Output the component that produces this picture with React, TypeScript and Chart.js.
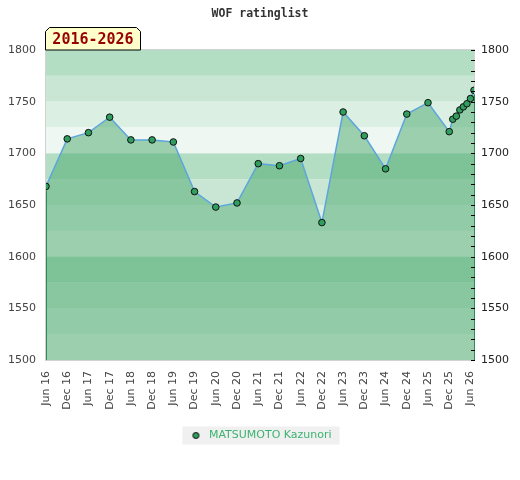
import React, { useEffect, useRef } from "react";
import { Chart, registerables } from "chart.js";

Chart.register(...registerables);

// ---- data ----
const chartTitle = "WOF ratinglist";
const periodLabel = "2016-2026";
const playerName = "MATSUMOTO Kazunori";

// months elapsed since Jun 2016
const monthOffsets = [0, 6, 12, 18, 24, 30, 36, 42, 48, 54, 60, 66, 72, 78, 84, 90, 96, 102, 108, 114, 115, 116, 117, 118, 119, 120, 121];
const ratings = [1668, 1714, 1720, 1735, 1713, 1713, 1711, 1663, 1648, 1652, 1690, 1688, 1695, 1633, 1740, 1717, 1685, 1738, 1749, 1721, 1733, 1736, 1742, 1745, 1748, 1753, 1761];

const xTickLabels = [
  "Jun 16", "Dec 16", "Jun 17", "Dec 17", "Jun 18", "Dec 18", "Jun 19", "Dec 19",
  "Jun 20", "Dec 20", "Jun 21", "Dec 21", "Jun 22", "Dec 22", "Jun 23", "Dec 23",
  "Jun 24", "Dec 24", "Jun 25", "Dec 25", "Jun 26",
];
const xTickStep = 6;
const xMin = 0;
const xMax = 121;

const yMin = 1500;
const yMax = 1800;
const yStep = 50;
const yMinorStep = 10;
const bandStep = 25;
const bandColors = ["#b3dec3", "#c9e6d4", "#dcefe3", "#eef7f1"];

const lineColor = "#5ea5dc";
const fillColor = "rgba(71,168,108,0.5)";
const pointColor = "#2f9e5e";
const legendTextColor = "#3cb371";

const decorPlugin = {
  id: "decor",
  beforeDraw(chart: any) {
    const { ctx, chartArea: a, scales } = chart;
    const ys = scales.y;
    ctx.save();
    let i = 0;
    for (let v = yMax; v > yMin; v -= bandStep) {
      const top = ys.getPixelForValue(v);
      const bot = ys.getPixelForValue(v - bandStep);
      ctx.fillStyle = bandColors[i % bandColors.length];
      ctx.fillRect(a.left, top, a.right - a.left, bot - top);
      i++;
    }
    ctx.strokeStyle = "#d2d2d2";
    ctx.lineWidth = 1;
    ctx.strokeRect(a.left - 0.5, a.top - 0.5, a.right - a.left + 1, a.bottom - a.top + 1);
    const lg = chart.legend;
    if (lg && lg.legendHitBoxes && lg.legendHitBoxes.length) {
      const hb = lg.legendHitBoxes[0];
      ctx.fillStyle = "#f0f0f0";
      ctx.fillRect(hb.left - 6, hb.top + hb.height / 2 - 9, hb.width + 14, 18);
    }
    ctx.restore();
  },
  afterDatasetsDraw(chart: any) {
    const { ctx, chartArea: a, scales } = chart;
    const meta = chart.getDatasetMeta(0);
    const pts = meta.data;
    ctx.save();
    ctx.strokeStyle = "#2e8b57";
    ctx.lineWidth = 1;
    [pts[0], pts[pts.length - 1]].forEach((p: any) => {
      ctx.beginPath();
      ctx.moveTo(Math.round(p.x) + 0.5, p.y + 4);
      ctx.lineTo(Math.round(p.x) + 0.5, a.bottom);
      ctx.stroke();
    });
    ctx.strokeStyle = "#000";
    for (let v = yMin; v <= yMax; v += yMinorStep) {
      const y = Math.round(scales.y.getPixelForValue(v)) + 0.5;
      ctx.beginPath();
      ctx.moveTo(a.right - 3, y);
      ctx.lineTo(a.right + 1, y);
      ctx.stroke();
    }
    ctx.restore();
  },
  afterDraw(chart: any) {
    const { ctx, chartArea: a } = chart;
    const x0 = a.left - 0.5;
    const x1 = a.left + 94.5;
    const yb = a.top;
    const yt = a.top - 22.5;
    const c = 4;
    ctx.save();
    ctx.beginPath();
    ctx.moveTo(x0, yb);
    ctx.lineTo(x0, yt + c);
    ctx.lineTo(x0 + c, yt);
    ctx.lineTo(x1 - c, yt);
    ctx.lineTo(x1, yt + c);
    ctx.lineTo(x1, yb);
    ctx.closePath();
    ctx.fillStyle = "#ffffcc";
    ctx.fill();
    ctx.strokeStyle = "#000";
    ctx.lineWidth = 1;
    ctx.stroke();
    ctx.font = 'bold 15px "DejaVu Sans Mono"';
    ctx.fillStyle = "#990000";
    ctx.textAlign = "center";
    ctx.textBaseline = "middle";
    ctx.fillText(periodLabel, (x0 + x1) / 2, (yt + yb) / 2 + 1);
    ctx.restore();
  },
};

export default function App() {
  const ref = useRef<HTMLCanvasElement | null>(null);

  useEffect(() => {
    document.body.style.margin = "0";
    const canvas = ref.current;
    if (!canvas) return;

    const dot = document.createElement("canvas");
    dot.width = 9;
    dot.height = 9;
    const dc = dot.getContext("2d")!;
    dc.beginPath();
    dc.arc(4.5, 4.5, 3, 0, Math.PI * 2);
    dc.fillStyle = pointColor;
    dc.fill();
    dc.strokeStyle = "#000";
    dc.lineWidth = 1;
    dc.stroke();

    const tickFont = { family: "DejaVu Sans", size: 11 };

    const chart = new Chart(canvas, {
      type: "line",
      data: {
        datasets: [
          {
            label: playerName,
            data: monthOffsets.map((m, i) => ({ x: m, y: ratings[i] })),
            borderColor: lineColor,
            borderWidth: 1.5,
            backgroundColor: fillColor,
            fill: "start",
            tension: 0,
            pointRadius: 3.3,
            pointBorderWidth: 1,
            pointBackgroundColor: pointColor,
            pointBorderColor: "#111",
            yAxisID: "y",
          },
        ],
      },
      options: {
        responsive: false,
        animation: false,
        layout: { padding: { bottom: 29 } },
        plugins: {
          title: {
            display: true,
            text: chartTitle,
            color: "#333",
            font: { family: "DejaVu Sans Mono", size: 11.5, weight: "bold" },
            padding: { top: 7, bottom: 29.2 },
          },
          legend: {
            display: true,
            position: "bottom",
            labels: {
              usePointStyle: true,
              pointStyle: dot,
              pointStyleWidth: 15,
              boxHeight: 5,
              padding: 10,
              color: legendTextColor,
              font: { family: "DejaVu Sans", size: 11 },
            },
          },
          tooltip: { enabled: false },
        },
        scales: {
          x: {
            type: "linear",
            min: xMin,
            max: xMax,
            grid: { display: false, drawTicks: false },
            border: { display: false },
            ticks: {
              stepSize: xTickStep,
              autoSkip: false,
              includeBounds: false,
              maxRotation: 90,
              minRotation: 90,
              padding: 11,
              color: "#444",
              font: tickFont,
              callback: (v: any) => xTickLabels[Math.round(Number(v) / xTickStep)] ?? "",
            },
            afterFit: (s: any) => {
              s.height = 60;
            },
          },
          y: {
            position: "left",
            min: yMin,
            max: yMax,
            grid: { display: false, drawTicks: false },
            border: { display: false },
            ticks: {
              stepSize: yStep,
              padding: 10,
              color: "#444",
              font: tickFont,
              callback: (v: any) => String(v),
            },
            afterFit: (s: any) => {
              s.width = 46;
            },
          },
          y1: {
            position: "right",
            min: yMin,
            max: yMax,
            grid: { display: false, drawTicks: false },
            border: { display: false },
            ticks: {
              stepSize: yStep,
              padding: 7,
              color: "#222",
              font: tickFont,
              callback: (v: any) => String(v),
            },
            afterFit: (s: any) => {
              s.width = 46;
            },
          },
        },
      } as any,
      plugins: [decorPlugin],
    });

    return () => {
      chart.destroy();
    };
  }, []);

  return (
    <div style={{ width: 520, height: 480, background: "#fff" }}>
      <canvas ref={ref} width={520} height={480} style={{ width: 520, height: 480, display: "block" }} />
    </div>
  );
}
